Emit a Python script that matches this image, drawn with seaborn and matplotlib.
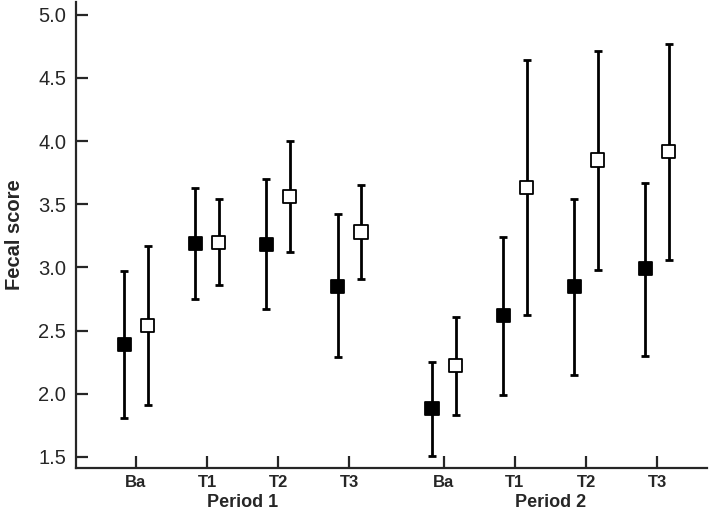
import matplotlib
matplotlib.use("Agg")
import matplotlib.pyplot as plt
import seaborn as sns
import pandas as pd

# Datos
tiempos = ["Ba", "T1", "T2", "T3", "Ba", "T1", "T2", "T3"]
posiciones = [0, 1, 2, 3, 4.33, 5.33, 6.33, 7.33]

negro_media = [2.39, 3.19, 3.18, 2.85, 1.88, 2.62, 2.85, 2.99]
negro_sup = [2.97, 3.63, 3.70, 3.42, 2.25, 3.24, 3.54, 3.67]
negro_inf = [1.81, 2.75, 2.67, 2.29, 1.51, 1.99, 2.15, 2.30]

blanco_media = [2.54, 3.20, 3.56, 3.28, 2.22, 3.63, 3.85, 3.92]
blanco_sup = [3.17, 3.54, 4.00, 3.65, 2.61, 4.64, 4.71, 4.77]
blanco_inf = [1.91, 2.86, 3.12, 2.91, 1.83, 2.62, 2.98, 3.06]

periodos = ["Period 1", "Period 2"]
periodo_x = [1.5, 5.83]

offset = 0.165

filas = []
for i in range(len(tiempos)):
    filas.append({"x": posiciones[i] - offset, "media": negro_media[i],
                  "sup": negro_sup[i], "inf": negro_inf[i], "grupo": "negro"})
    filas.append({"x": posiciones[i] + offset, "media": blanco_media[i],
                  "sup": blanco_sup[i], "inf": blanco_inf[i], "grupo": "blanco"})
df = pd.DataFrame(filas)

sns.set_style("ticks")
plt.rcParams['font.family'] = ['Liberation Sans', 'DejaVu Sans']

fig = plt.figure(figsize=(7.09, 5.13), dpi=100)
ax = fig.add_axes([0.107, 0.088, 0.89, 0.908])

# Barras de error
ax.errorbar(df["x"], df["media"],
            yerr=[df["media"] - df["inf"], df["sup"] - df["media"]],
            fmt="none", ecolor="black", elinewidth=2, capsize=3,
            capthick=2, zorder=2)

# Marcadores
sns.scatterplot(data=df, x="x", y="media", hue="grupo",
                palette={"negro": "black", "blanco": "white"},
                marker="s", s=90, edgecolor="black", linewidth=1.3,
                legend=False, zorder=3, ax=ax)

ax.set_xlim(-0.845, 8.03)
ax.set_ylim(1.413, 5.10)
ax.set_yticks([1.5, 2.0, 2.5, 3.0, 3.5, 4.0, 4.5, 5.0])
ax.set_yticklabels(["1.5", "2.0", "2.5", "3.0", "3.5", "4.0", "4.5", "5.0"],
                   fontsize=14.5)
ax.set_xticks(posiciones)
ax.set_xticklabels(tiempos, fontsize=12, fontweight="bold")
ax.set_xlabel("")
ax.set_ylabel("Fecal score", fontsize=14.5, fontweight="bold")
ax.yaxis.set_label_coords(-0.082, 0.5)

for s in ["top", "right"]:
    ax.spines[s].set_visible(False)
for s in ["left", "bottom"]:
    ax.spines[s].set_linewidth(1.6)
ax.tick_params(axis="both", direction="in", length=8.5, width=1.6)
ax.tick_params(axis="y", pad=7)
ax.tick_params(axis="x", pad=5)

for nombre, xp in zip(periodos, periodo_x):
    ax.text(xp, -0.075, nombre, transform=ax.get_xaxis_transform(),
            ha="center", va="center", fontsize=13, fontweight="bold")

plt.savefig("out.png", dpi=100)
